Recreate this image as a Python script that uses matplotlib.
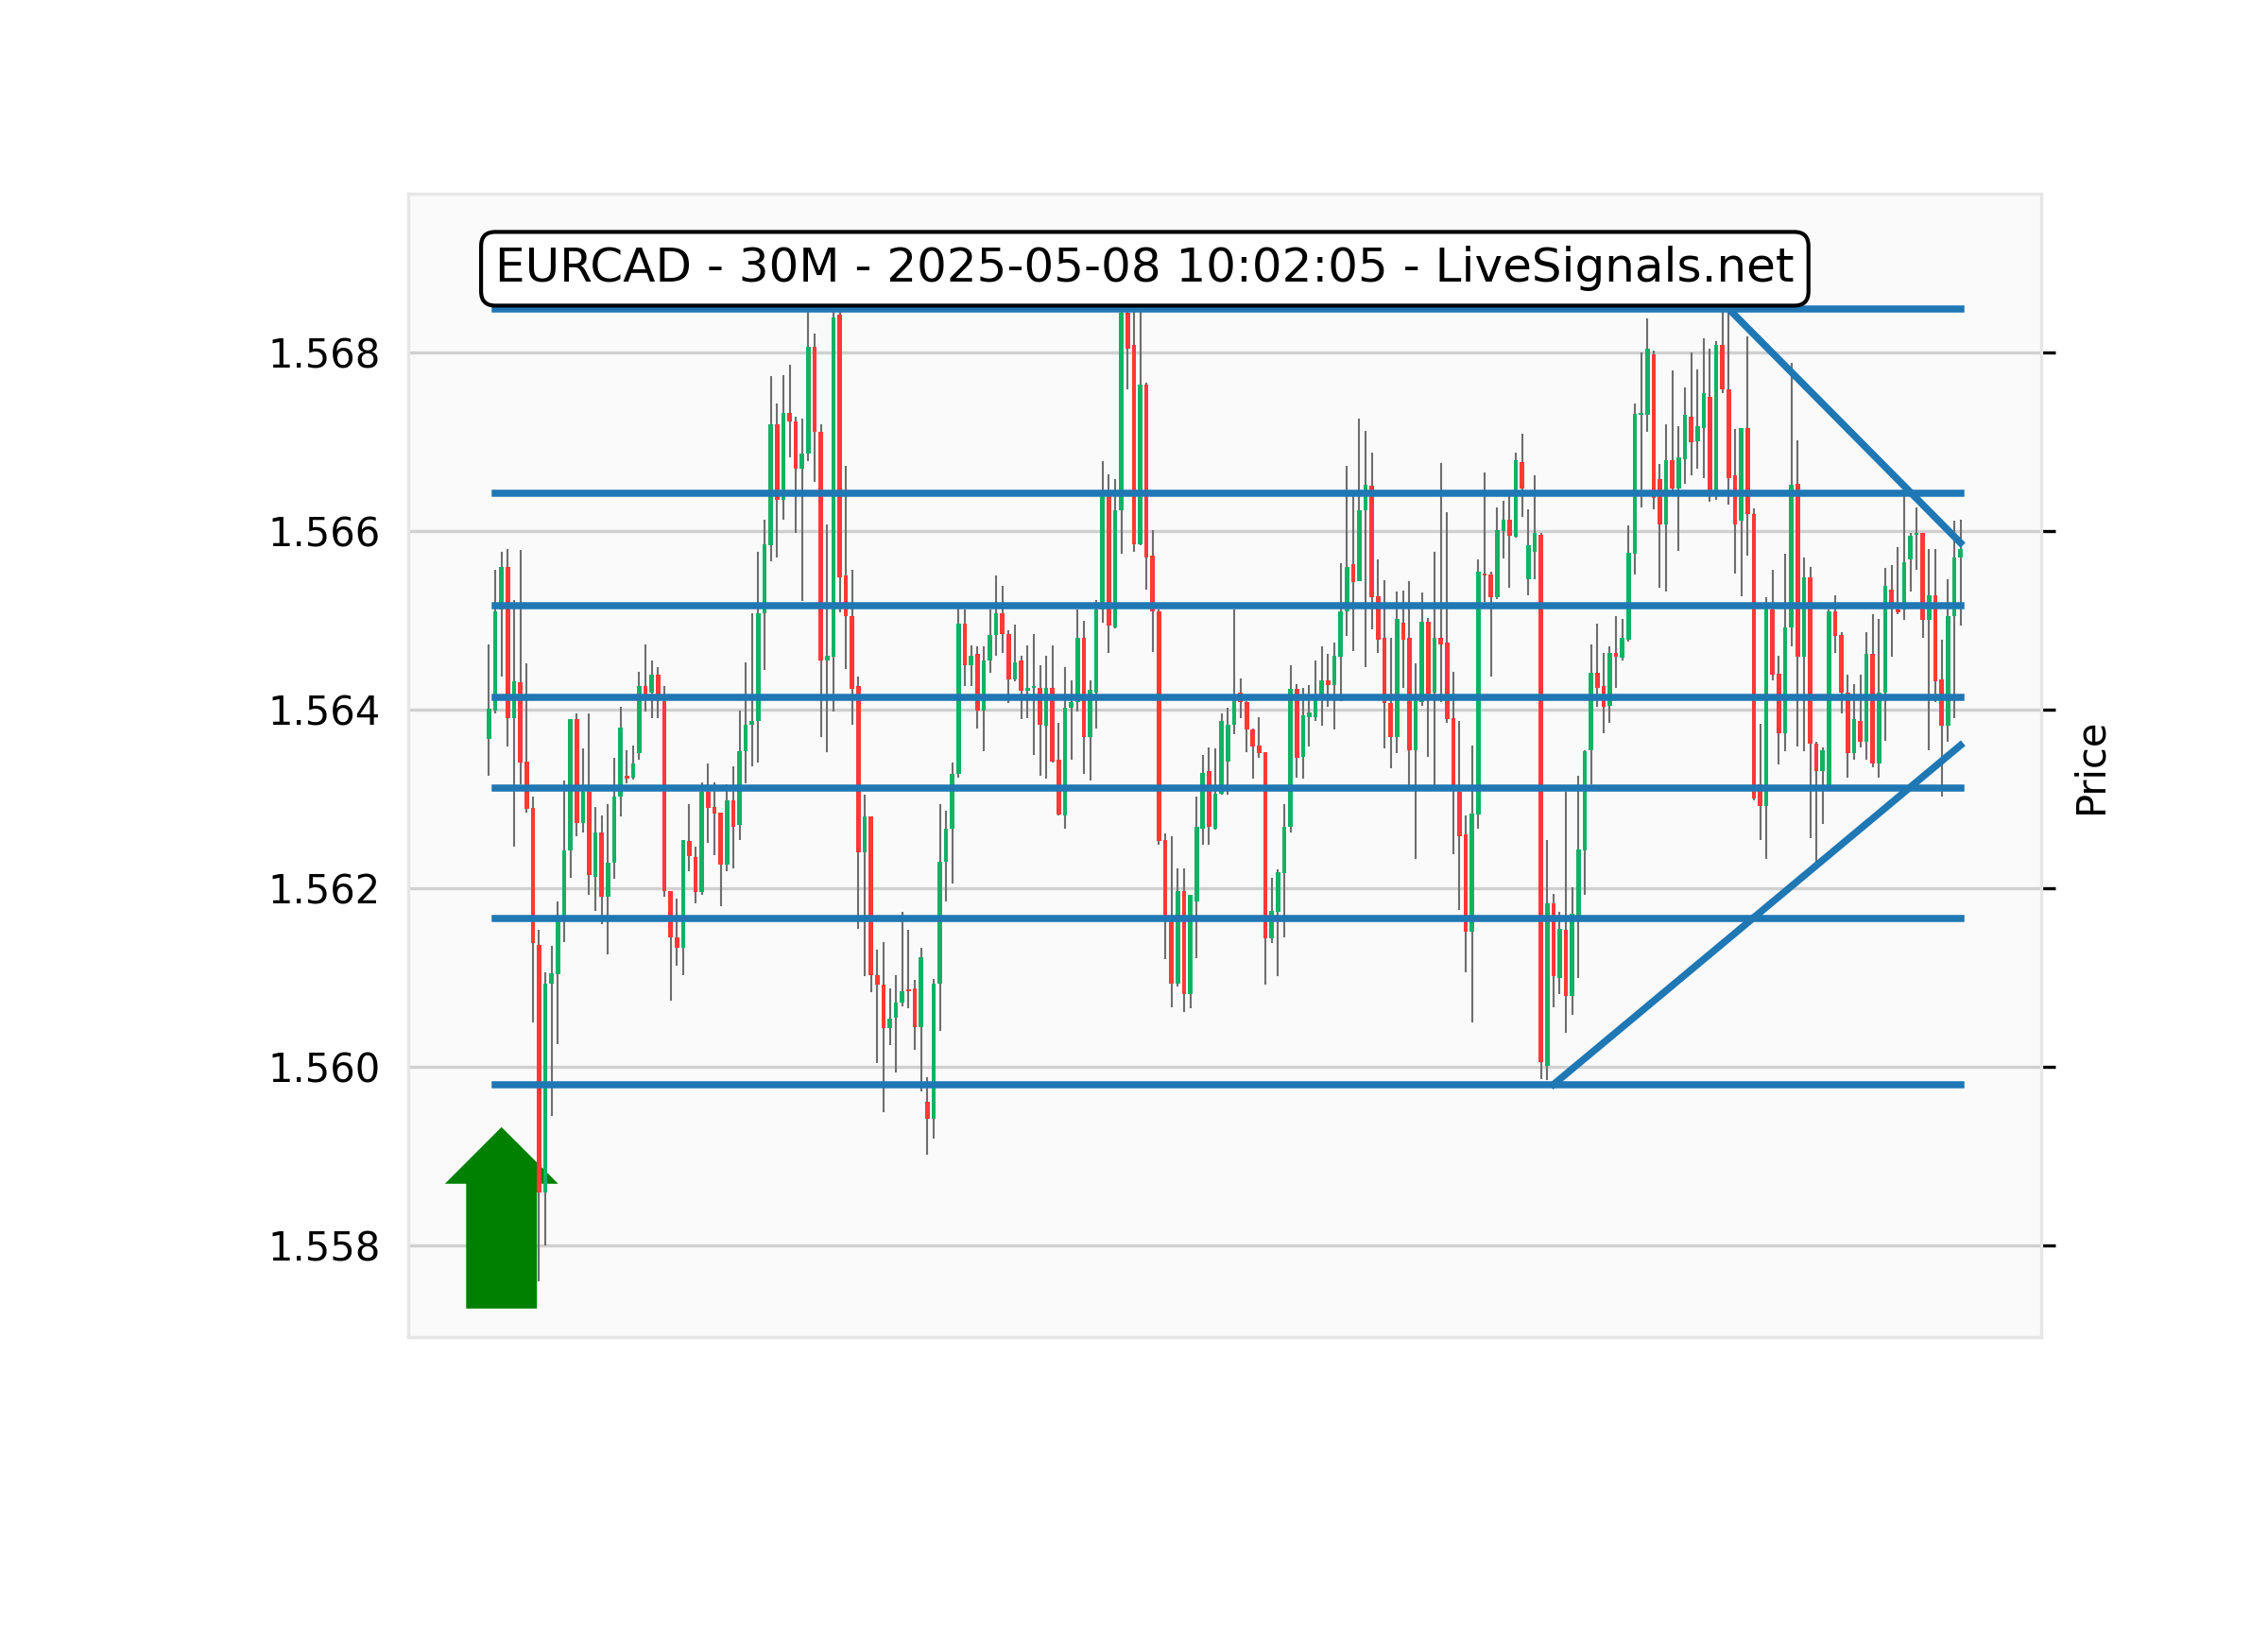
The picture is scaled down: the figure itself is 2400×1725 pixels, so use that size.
import numpy as np
import matplotlib
matplotlib.use("Agg")
import matplotlib.pyplot as plt
from matplotlib.patches import FancyArrow

# EURCAD 30M candles
opens = [
    1.56367, 1.56399, 1.56512, 1.56560, 1.56391, 1.56431, 1.56342, 1.56290, 1.56136, 1.55859,
    1.56093, 1.56104, 1.56167, 1.56242, 1.56389, 1.56273, 1.56308, 1.56213, 1.56262, 1.56190,
    1.56228, 1.56303, 1.56326, 1.56324, 1.56351, 1.56427, 1.56419, 1.56439, 1.56410, 1.56197,
    1.56145, 1.56133, 1.56253, 1.56235, 1.56196, 1.56308, 1.56291, 1.56285, 1.56226, 1.56298,
    1.56271, 1.56353, 1.56383, 1.56387, 1.56508, 1.56584, 1.56720, 1.56635, 1.56732, 1.56723,
    1.56670, 1.56687, 1.56807, 1.56711, 1.56455, 1.56459, 1.56843, 1.56550, 1.56505, 1.56426,
    1.56240, 1.56280, 1.56103, 1.56092, 1.56043, 1.56055, 1.56072, 1.56087, 1.56088, 1.56044,
    1.55961, 1.55942, 1.56093, 1.56230, 1.56267, 1.56328, 1.56496, 1.56450, 1.56462, 1.56399,
    1.56455, 1.56484, 1.56508, 1.56485, 1.56434, 1.56455, 1.56421, 1.56424, 1.56424, 1.56382,
    1.56424, 1.56344, 1.56281, 1.56402, 1.56408, 1.56480, 1.56369, 1.56419, 1.56512, 1.56643,
    1.56492, 1.56623, 1.56845, 1.56809, 1.56585, 1.56764, 1.56573, 1.56510, 1.56254, 1.56167,
    1.56093, 1.56197, 1.56081, 1.56185, 1.56267, 1.56331, 1.56267, 1.56306, 1.56342, 1.56383,
    1.56419, 1.56408, 1.56378, 1.56360, 1.56352, 1.56144, 1.56173, 1.56217, 1.56269, 1.56423,
    1.56347, 1.56392, 1.56392, 1.56412, 1.56433, 1.56428, 1.56459, 1.56510, 1.56563, 1.56544,
    1.56623, 1.56651, 1.56527, 1.56480, 1.56407, 1.56369, 1.56497, 1.56480, 1.56354, 1.56409,
    1.56498, 1.56419, 1.56480, 1.56475, 1.56390, 1.56308, 1.56260, 1.56151, 1.56283, 1.56553,
    1.56551, 1.56526, 1.56600, 1.56613, 1.56594, 1.56677, 1.56546, 1.56577, 1.56596, 1.56001,
    1.56183, 1.56099, 1.56153, 1.56079, 1.56169, 1.56242, 1.56354, 1.56441, 1.56426, 1.56404,
    1.56464, 1.56458, 1.56478, 1.56575, 1.56730, 1.56730, 1.56798, 1.56658, 1.56608, 1.56680,
    1.56648, 1.56681, 1.56728, 1.56701, 1.56716, 1.56751, 1.56644, 1.56809, 1.56759, 1.56663,
    1.56612, 1.56716, 1.56619, 1.56316, 1.56292, 1.56512, 1.56440, 1.56374, 1.56492, 1.56653,
    1.56459, 1.56548, 1.56362, 1.56331, 1.56314, 1.56510, 1.56484, 1.56419, 1.56351, 1.56387,
    1.56364, 1.56462, 1.56340, 1.56419, 1.56535, 1.56512, 1.56512, 1.56568, 1.56596, 1.56598,
    1.56501, 1.56528, 1.56434, 1.56382, 1.56505, 1.56570,
]
highs = [
    1.56473, 1.56557, 1.56577, 1.56580, 1.56523, 1.56579, 1.56452, 1.56303, 1.56153, 1.56106,
    1.56135, 1.56185, 1.56321, 1.56389, 1.56396, 1.56357, 1.56396, 1.56291, 1.56281, 1.56294,
    1.56346, 1.56403, 1.56355, 1.56360, 1.56442, 1.56473, 1.56455, 1.56448, 1.56427, 1.56197,
    1.56188, 1.56254, 1.56294, 1.56246, 1.56319, 1.56340, 1.56319, 1.56285, 1.56316, 1.56336,
    1.56399, 1.56453, 1.56508, 1.56577, 1.56613, 1.56774, 1.56743, 1.56775, 1.56786, 1.56728,
    1.56726, 1.56849, 1.56821, 1.56720, 1.56608, 1.56849, 1.56849, 1.56673, 1.56557, 1.56437,
    1.56305, 1.56280, 1.56131, 1.56140, 1.56088, 1.56103, 1.56173, 1.56153, 1.56097, 1.56133,
    1.55988, 1.56098, 1.56294, 1.56287, 1.56341, 1.56514, 1.56512, 1.56472, 1.56471, 1.56471,
    1.56512, 1.56550, 1.56539, 1.56489, 1.56495, 1.56460, 1.56472, 1.56485, 1.56450, 1.56460,
    1.56472, 1.56385, 1.56448, 1.56433, 1.56512, 1.56500, 1.56433, 1.56523, 1.56678, 1.56664,
    1.56658, 1.56849, 1.56849, 1.56849, 1.56849, 1.56766, 1.56601, 1.56512, 1.56261, 1.56258,
    1.56222, 1.56222, 1.56192, 1.56303, 1.56349, 1.56358, 1.56357, 1.56396, 1.56402, 1.56512,
    1.56435, 1.56410, 1.56379, 1.56392, 1.56352, 1.56212, 1.56221, 1.56294, 1.56450, 1.56429,
    1.56424, 1.56428, 1.56455, 1.56471, 1.56462, 1.56475, 1.56564, 1.56673, 1.56639, 1.56726,
    1.56712, 1.56688, 1.56568, 1.56545, 1.56480, 1.56532, 1.56533, 1.56544, 1.56452, 1.56531,
    1.56503, 1.56577, 1.56676, 1.56621, 1.56442, 1.56387, 1.56281, 1.56360, 1.56568, 1.56666,
    1.56555, 1.56627, 1.56634, 1.56639, 1.56688, 1.56709, 1.56625, 1.56663, 1.56598, 1.56254,
    1.56194, 1.56173, 1.56308, 1.56201, 1.56326, 1.56354, 1.56473, 1.56496, 1.56464, 1.56471,
    1.56505, 1.56502, 1.56607, 1.56743, 1.56800, 1.56838, 1.56802, 1.56675, 1.56720, 1.56780,
    1.56718, 1.56761, 1.56800, 1.56781, 1.56816, 1.56804, 1.56813, 1.56849, 1.56849, 1.56714,
    1.56716, 1.56818, 1.56626, 1.56384, 1.56526, 1.56557, 1.56460, 1.56575, 1.56789, 1.56702,
    1.56570, 1.56560, 1.56364, 1.56358, 1.56512, 1.56528, 1.56487, 1.56439, 1.56429, 1.56439,
    1.56487, 1.56507, 1.56502, 1.56559, 1.56562, 1.56582, 1.56645, 1.56598, 1.56627, 1.56598,
    1.56580, 1.56580, 1.56478, 1.56546, 1.56612, 1.56613,
]
lows = [
    1.56326, 1.56396, 1.56437, 1.56359, 1.56246, 1.56316, 1.56285, 1.56050, 1.55759, 1.55800,
    1.55945, 1.56025, 1.56140, 1.56212, 1.56258, 1.56262, 1.56192, 1.56174, 1.56160, 1.56126,
    1.56211, 1.56280, 1.56317, 1.56322, 1.56344, 1.56398, 1.56390, 1.56390, 1.56190, 1.56074,
    1.56113, 1.56103, 1.56219, 1.56183, 1.56193, 1.56251, 1.56237, 1.56180, 1.56219, 1.56222,
    1.56254, 1.56317, 1.56336, 1.56341, 1.56444, 1.56566, 1.56570, 1.56613, 1.56683, 1.56598,
    1.56522, 1.56678, 1.56655, 1.56369, 1.56352, 1.56398, 1.56509, 1.56446, 1.56383, 1.56154,
    1.56101, 1.56083, 1.56004, 1.55949, 1.56024, 1.55993, 1.56068, 1.56065, 1.56019, 1.55972,
    1.55901, 1.55919, 1.56040, 1.56185, 1.56205, 1.56324, 1.56426, 1.56426, 1.56379, 1.56353,
    1.56441, 1.56460, 1.56464, 1.56407, 1.56432, 1.56389, 1.56391, 1.56349, 1.56326, 1.56323,
    1.56341, 1.56281, 1.56267, 1.56344, 1.56398, 1.56328, 1.56321, 1.56379, 1.56497, 1.56464,
    1.56491, 1.56575, 1.56759, 1.56577, 1.56584, 1.56534, 1.56465, 1.56249, 1.56120, 1.56067,
    1.56090, 1.56061, 1.56065, 1.56122, 1.56249, 1.56249, 1.56266, 1.56305, 1.56305, 1.56373,
    1.56391, 1.56352, 1.56323, 1.56346, 1.56092, 1.56138, 1.56101, 1.56145, 1.56262, 1.56324,
    1.56323, 1.56359, 1.56387, 1.56382, 1.56403, 1.56378, 1.56410, 1.56483, 1.56466, 1.56544,
    1.56448, 1.56490, 1.56464, 1.56357, 1.56334, 1.56351, 1.56424, 1.56315, 1.56233, 1.56404,
    1.56347, 1.56315, 1.56408, 1.56385, 1.56238, 1.56176, 1.56106, 1.56050, 1.56267, 1.56521,
    1.56437, 1.56524, 1.56569, 1.56537, 1.56593, 1.56616, 1.56528, 1.56546, 1.55986, 1.55985,
    1.56067, 1.56081, 1.56038, 1.56058, 1.56099, 1.56193, 1.56316, 1.56403, 1.56374, 1.56385,
    1.56424, 1.56455, 1.56476, 1.56551, 1.56627, 1.56711, 1.56625, 1.56537, 1.56532, 1.56645,
    1.56578, 1.56653, 1.56663, 1.56670, 1.56659, 1.56633, 1.56635, 1.56755, 1.56630, 1.56552,
    1.56527, 1.56573, 1.56298, 1.56254, 1.56233, 1.56433, 1.56339, 1.56353, 1.56471, 1.56359,
    1.56353, 1.56256, 1.56229, 1.56272, 1.56312, 1.56464, 1.56396, 1.56324, 1.56344, 1.56358,
    1.56344, 1.56335, 1.56324, 1.56365, 1.56459, 1.56507, 1.56501, 1.56532, 1.56557, 1.56480,
    1.56354, 1.56409, 1.56303, 1.56364, 1.56390, 1.56494,
]
closes = [
    1.56401, 1.56510, 1.56560, 1.56391, 1.56432, 1.56341, 1.56289, 1.56138, 1.55859, 1.56093,
    1.56105, 1.56167, 1.56242, 1.56389, 1.56273, 1.56308, 1.56215, 1.56262, 1.56190, 1.56228,
    1.56303, 1.56380, 1.56323, 1.56340, 1.56426, 1.56417, 1.56439, 1.56417, 1.56197, 1.56145,
    1.56133, 1.56254, 1.56236, 1.56196, 1.56308, 1.56290, 1.56284, 1.56226, 1.56298, 1.56269,
    1.56353, 1.56383, 1.56387, 1.56508, 1.56585, 1.56720, 1.56635, 1.56732, 1.56723, 1.56670,
    1.56687, 1.56807, 1.56711, 1.56455, 1.56460, 1.56839, 1.56548, 1.56505, 1.56423, 1.56240,
    1.56280, 1.56103, 1.56092, 1.56043, 1.56054, 1.56072, 1.56085, 1.56085, 1.56044, 1.56123,
    1.55942, 1.56093, 1.56230, 1.56267, 1.56328, 1.56496, 1.56450, 1.56460, 1.56399, 1.56455,
    1.56484, 1.56508, 1.56485, 1.56434, 1.56453, 1.56421, 1.56424, 1.56427, 1.56383, 1.56424,
    1.56342, 1.56283, 1.56402, 1.56408, 1.56480, 1.56369, 1.56422, 1.56512, 1.56643, 1.56494,
    1.56623, 1.56845, 1.56805, 1.56585, 1.56764, 1.56571, 1.56510, 1.56253, 1.56167, 1.56093,
    1.56197, 1.56081, 1.56192, 1.56269, 1.56329, 1.56269, 1.56306, 1.56387, 1.56383, 1.56417,
    1.56409, 1.56378, 1.56359, 1.56351, 1.56144, 1.56174, 1.56218, 1.56269, 1.56423, 1.56346,
    1.56394, 1.56397, 1.56412, 1.56433, 1.56428, 1.56460, 1.56510, 1.56560, 1.56543, 1.56623,
    1.56652, 1.56526, 1.56478, 1.56407, 1.56369, 1.56502, 1.56478, 1.56354, 1.56410, 1.56498,
    1.56417, 1.56480, 1.56473, 1.56389, 1.56315, 1.56258, 1.56151, 1.56284, 1.56555, 1.56550,
    1.56526, 1.56601, 1.56613, 1.56595, 1.56680, 1.56648, 1.56584, 1.56598, 1.56005, 1.56183,
    1.56101, 1.56154, 1.56079, 1.56171, 1.56243, 1.56353, 1.56441, 1.56424, 1.56403, 1.56464,
    1.56459, 1.56480, 1.56576, 1.56731, 1.56732, 1.56804, 1.56637, 1.56608, 1.56680, 1.56648,
    1.56683, 1.56730, 1.56700, 1.56718, 1.56755, 1.56644, 1.56809, 1.56759, 1.56659, 1.56608,
    1.56716, 1.56619, 1.56301, 1.56292, 1.56514, 1.56439, 1.56374, 1.56492, 1.56652, 1.56459,
    1.56548, 1.56362, 1.56331, 1.56355, 1.56510, 1.56483, 1.56419, 1.56351, 1.56389, 1.56364,
    1.56462, 1.56340, 1.56419, 1.56539, 1.56519, 1.56509, 1.56565, 1.56595, 1.56598, 1.56501,
    1.56528, 1.56432, 1.56382, 1.56505, 1.56570, 1.56580,
]

# support / resistance levels and trend lines
levels = [1.56849, 1.56643, 1.56516, 1.56414, 1.56312, 1.56166, 1.55980]
level_start, level_end = 1, 235
trend_up = ([170, 235], [1.55980, 1.56360])
trend_down = ([198, 235], [1.56849, 1.56587])

title = "EURCAD - 30M - 2025-05-08 10:02:05 - LiveSignals.net"
yticks = [1.558, 1.560, 1.562, 1.564, 1.566, 1.568]

o = np.array(opens)
h = np.array(highs)
l = np.array(lows)
c = np.array(closes)
x = np.arange(len(o))

up_color = '#12b265'
down_color = '#ff3838'
colors = np.where(c >= o, up_color, down_color)

fig = plt.figure(figsize=(8, 5.75), dpi=300)
ax = fig.add_axes([0.18, 0.1797, 0.72, 0.7014])
ax.set_facecolor('#fafafa')
for s in ax.spines.values():
    s.set_color('#e6e6e6')
    s.set_linewidth(0.8)

ax.grid(True, axis='y', color='#d0d0d0', linewidth=0.8, zorder=0)
ax.set_axisbelow(True)

# buy arrow
ax.add_patch(FancyArrow(2, 1.55729, 0, 0.002033, width=11.3, head_width=18.1,
                        head_length=0.000635, length_includes_head=True,
                        color='green', linewidth=0, zorder=1))

# candles
ax.vlines(x, l, h, color='#6e6e6e', linewidth=0.5, zorder=2)
body = np.where(np.abs(c - o) < 0.000005, 0.000005, c - o)
ax.bar(x, body, bottom=o, width=0.7, color=colors, linewidth=0, zorder=3)

# levels
for lv in levels:
    ax.plot([level_start, level_end], [lv, lv], color='#1f77b4', linewidth=1.8, zorder=4)
ax.plot(trend_up[0], trend_up[1], color='#1f77b4', linewidth=1.8, zorder=4)
ax.plot(trend_down[0], trend_down[1], color='#1f77b4', linewidth=1.8, zorder=4)

ax.text(1, 1.56894, title, fontsize=12, ha='left', va='center', zorder=6,
        bbox=dict(boxstyle='round', facecolor='white', edgecolor='black', linewidth=1.0))

ax.set_xlim(-12.9, 247.9)
ax.set_ylim(1.55697, 1.56978)
ax.set_yticks(yticks)
ax.set_yticklabels(['%.3f' % t for t in yticks])
ax.set_xticks([])
ax.tick_params(axis='y', left=False, right=True, labelleft=True, labelright=False)
ax.yaxis.set_label_position('right')
ax.set_ylabel('Price')

fig.savefig('out.png', dpi=300)
